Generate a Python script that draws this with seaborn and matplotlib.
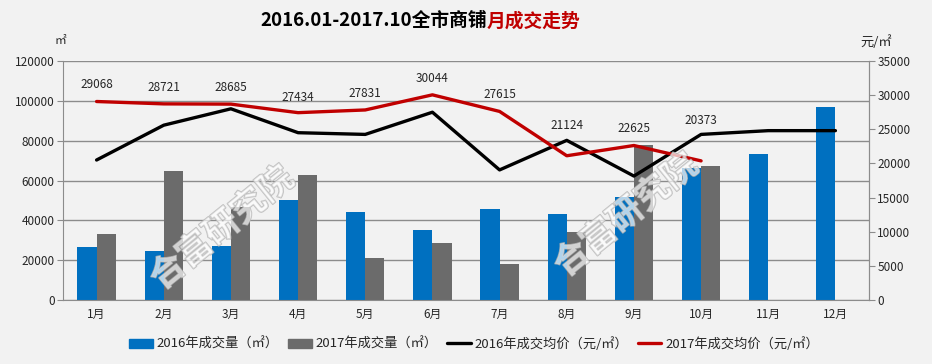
import numpy as np
import pandas as pd
import matplotlib
matplotlib.use("Agg")
import matplotlib.pyplot as plt
import matplotlib.patheffects as pe
from matplotlib.lines import Line2D
from matplotlib.patches import Patch
import seaborn as sns

# data
months = ["1月", "2月", "3月", "4月", "5月", "6月", "7月", "8月", "9月", "10月", "11月", "12月"]
vol_2016 = [26500, 24800, 27200, 50300, 44300, 35200, 45800, 43300, 51900, 66300, 73400, 96900]
vol_2017 = [33000, 65000, 46800, 62900, 21200, 28700, 18200, 34200, 77800, 67400, np.nan, np.nan]
price_2016 = [20500, 25600, 28000, 24500, 24250, 27500, 19050, 23380, 18150, 24250, 24800, 24800]
price_2017 = [29068, 28721, 28685, 27434, 27831, 30044, 27615, 21124, 22625, 20373]
label_dy = [12, 12, 12, 11, 12, 12, 12, 22, 12, 29]   # label offsets (points), like excel

BLUE, GRAY, RED = "#0070C0", "#6B6B6B", "#C00000"
BG = "#F2F2F2"

sns.set_style("white")
plt.rcParams["font.family"] = ["Noto Sans CJK SC", "DejaVu Sans"]
plt.rcParams["axes.unicode_minus"] = False

df = pd.DataFrame({
    "month": months * 2,
    "year": ["2016"] * 12 + ["2017"] * 12,
    "vol": vol_2016 + vol_2017,
})

fig = plt.figure(figsize=(9.32, 3.64), dpi=100, facecolor=BG)
ax = fig.add_axes([63 / 932, 1 - 300 / 364, 806 / 932, 239 / 364])
ax.set_facecolor(BG)

sns.barplot(data=df, x="month", y="vol", hue="year", order=months,
            palette=[BLUE, GRAY], width=0.57, saturation=1, ax=ax, legend=False)
for b in ax.patches:
    b.set_edgecolor("none")

ax.set_ylim(0, 120000)
ax.set_yticks(range(0, 120001, 20000))
ax.set_xlim(-0.5, 11.5)
ax.set_xlabel("")
ax.set_ylabel("")
ax.yaxis.grid(True, color="#8C8C8C", lw=1)
ax.set_axisbelow(True)
ax.spines["top"].set_visible(False)
for s in ["left", "right", "bottom"]:
    ax.spines[s].set_color("#8C8C8C")
ax.tick_params(axis="y", length=4, color="#8C8C8C", labelsize=8.5, pad=2)
ax.tick_params(axis="x", length=0, labelsize=8.5, pad=6)
ax.set_xticks(np.arange(-0.5, 12, 1), minor=True)
ax.tick_params(axis="x", which="minor", length=5, color="#8C8C8C")

ax2 = ax.twinx()
x_all = np.arange(len(months))
sns.lineplot(x=x_all, y=price_2016, color="black", lw=2.4, ax=ax2)
sns.lineplot(x=x_all[:len(price_2017)], y=price_2017, color=RED, lw=2.4, ax=ax2)
ax2.set_ylim(0, 35000)
ax2.set_yticks(range(0, 35001, 5000))
ax2.set_xlim(-0.5, 11.5)
for s in ["top", "left", "bottom"]:
    ax2.spines[s].set_visible(False)
ax2.spines["right"].set_color("#8C8C8C")
ax2.tick_params(axis="y", length=4, color="#8C8C8C", labelsize=8.5, pad=2)

for xi, v, dy in zip(x_all, price_2017, label_dy):
    ax2.annotate(f"{v}", (xi, v), xytext=(0, dy), textcoords="offset points",
                 ha="center", va="center", fontsize=8.5)

# watermarks
for wx, wy in [(222 / 932, 1 - 228 / 364), (626 / 932, 1 - 215 / 364)]:
    fig.text(wx, wy, "合富研究院", fontsize=25, rotation=39, ha="center", va="center",
             color=(1, 1, 1, 0.45), fontweight="bold",
             path_effects=[pe.withStroke(linewidth=1.1, foreground=(0.7, 0.7, 0.7, 0.8))],
             zorder=5)

# title
fig.text(487 / 932, 1 - 21 / 364, "2016.01-2017.10全市商铺", ha="right", va="center",
         fontsize=13.5, fontweight="bold", color="black")
fig.text(487 / 932, 1 - 21 / 364, "月成交走势", ha="left", va="center",
         fontsize=13.5, fontweight="bold", color=RED)
fig.text(60 / 932, 1 - 40 / 364, "㎡", ha="center", va="center", fontsize=8.5)
fig.text(876 / 932, 1 - 42 / 364, "元/㎡", ha="center", va="center", fontsize=9.5)

handles = [Patch(color=BLUE), Patch(color=GRAY),
           Line2D([], [], color="black", lw=2.4), Line2D([], [], color=RED, lw=2.4)]
labels = ["2016年成交量（㎡）", "2017年成交量（㎡）", "2016年成交均价（元/㎡）", "2017年成交均价（元/㎡）"]
fig.legend(handles, labels, loc="center", bbox_to_anchor=(474 / 932, 1 - 344 / 364), ncol=4,
           frameon=False, fontsize=9.5, handlelength=1.8, handletextpad=0.3, columnspacing=0.7)

fig.savefig("out.png", dpi=100, facecolor=BG)
